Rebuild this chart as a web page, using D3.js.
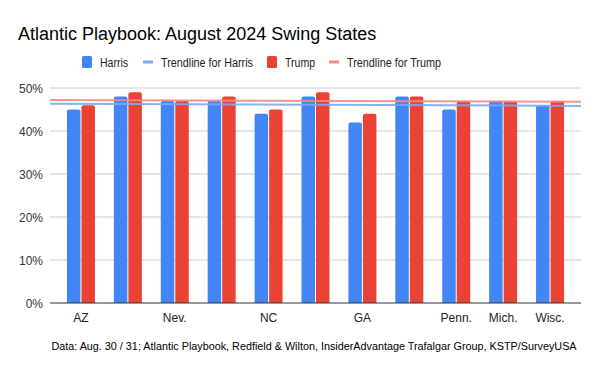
<!DOCTYPE html>
<html>
<head>
<meta charset="utf-8">
<script src="https://cdn.jsdelivr.net/npm/d3@7"></script>
<style>
  body { margin: 0; background: #fff; }
  svg { font-family: "Liberation Sans", Arial, sans-serif; }
</style>
</head>
<body>
<svg id="chart" width="600" height="371"></svg>
<script>
// data
const states = ["AZ", "", "Nev.", "", "NC", "", "GA", "", "Penn.", "Mich.", "Wisc."];
const harris = [45, 48, 47, 47, 44, 48, 42, 48, 45, 47, 46];
const trump  = [46, 49, 47, 48, 45, 49, 44, 48, 47, 47, 47];
const yTicks = [0, 10, 20, 30, 40, 50];

const series = [
    {name: "Harris", values: harris, color: "#4285f4", trend: "#7baaf7"},
    {name: "Trump",  values: trump,  color: "#ea4335", trend: "#f28b82"}
];

const svg = d3.select("#chart");
const plot = {left: 50, right: 581, top: 88, bottom: 303};

const x0 = d3.scaleBand()
    .domain(d3.range(states.length))
    .range([57.5, 573.5]);
const x1 = d3.scaleBand()
    .domain(series.map(s => s.name))
    .range([x0.bandwidth() / 2 - 14, x0.bandwidth() / 2 + 14])
    .paddingInner(0.07);
const y = d3.scaleLinear().domain([0, 50]).range([plot.bottom, plot.top]);

// title
svg.append("text")
    .attr("x", 18).attr("y", 40)
    .style("font-size", "18px")
    .style("fill", "#000")
    .text("Atlantic Playbook: August 2024 Swing States");

// legend (the reference font is a bit narrower, so squeeze to its widths)
const legend = [
    {label: "Harris", color: "#4285f4", type: "box", x: 82, w: 28},
    {label: "Trendline for Harris", color: "#7baaf7", type: "line", x: 143, w: 92},
    {label: "Trump", color: "#ea4335", type: "box", x: 267, w: 30},
    {label: "Trendline for Trump", color: "#f28b82", type: "line", x: 329, w: 94}
];
const lg = svg.append("g").attr("transform", "translate(0,62)");
legend.forEach(d => {
    if (d.type === "box") {
        lg.append("rect").attr("x", d.x).attr("y", -6).attr("width", 10).attr("height", 12)
            .attr("rx", 1.5).style("fill", d.color);
    } else {
        lg.append("rect").attr("x", d.x).attr("y", -1.5).attr("width", 10).attr("height", 3)
            .style("fill", d.color);
    }
    lg.append("text").attr("x", d.x + 18).attr("y", 4.5)
        .attr("textLength", d.w).attr("lengthAdjust", "spacingAndGlyphs")
        .style("font-size", "12.5px").style("fill", "#222").text(d.label);
});

// gridlines + y labels
const yAxis = svg.append("g");
yAxis.selectAll("line")
    .data(yTicks.filter(t => t > 0))
    .join("line")
    .attr("x1", plot.left).attr("x2", plot.right)
    .attr("y1", d => y(d)).attr("y2", d => y(d))
    .style("stroke", "#cccccc").style("stroke-width", 1);
yAxis.selectAll("text")
    .data(yTicks)
    .join("text")
    .attr("x", 43).attr("y", d => y(d) + 4.5)
    .attr("text-anchor", "end")
    .style("font-size", "12px").style("fill", "#333")
    .text(d => d + "%");

// bars with rounded tops
function barPath(x, w, yTop, yBot, r) {
    return `M${x},${yBot}V${yTop + r}Q${x},${yTop} ${x + r},${yTop}H${x + w - r}Q${x + w},${yTop} ${x + w},${yTop + r}V${yBot}Z`;
}
const groups = svg.append("g").selectAll("g")
    .data(states)
    .join("g")
    .attr("transform", (d, i) => `translate(${x0(i)},0)`);
groups.selectAll("path")
    .data((d, i) => series.map(s => ({name: s.name, color: s.color, v: s.values[i]})))
    .join("path")
    .attr("d", d => barPath(x1(d.name), x1.bandwidth(), y(d.v), plot.bottom, 2))
    .style("fill", d => d.color);

// trendlines (linear fit over category index)
series.forEach(s => {
    const n = s.values.length,
        xs = d3.range(n),
        mx = d3.mean(xs), my = d3.mean(s.values);
    const slope = d3.sum(xs, i => (i - mx) * (s.values[i] - my)) / d3.sum(xs, i => (i - mx) * (i - mx));
    const toIdx = px => (px - (x0(0) + x0.bandwidth() / 2)) / x0.step();
    const val = i => my + slope * (i - mx);
    svg.append("line")
        .attr("x1", plot.left).attr("x2", plot.right)
        .attr("y1", y(val(toIdx(plot.left)))).attr("y2", y(val(toIdx(plot.right))))
        .style("stroke", s.trend).style("stroke-width", 2).style("opacity", 0.9);
});

// zero baseline
svg.append("line")
    .attr("x1", plot.left).attr("x2", plot.right)
    .attr("y1", y(0)).attr("y2", y(0))
    .style("stroke", "#333").style("stroke-width", 1);

// x labels
svg.append("g").selectAll("text")
    .data(states)
    .join("text")
    .attr("x", (d, i) => x0(i) + x0.bandwidth() / 2)
    .attr("y", 322)
    .attr("text-anchor", "middle")
    .style("font-size", "12px").style("fill", "#222")
    .text(d => d);

// source note
svg.append("text")
    .attr("x", 314).attr("y", 350)
    .attr("text-anchor", "middle")
    .style("font-size", "10.8px").style("fill", "#000")
    .text("Data: Aug. 30 / 31; Atlantic Playbook, Redfield & Wilton, InsiderAdvantage Trafalgar Group, KSTP/SurveyUSA");
</script>
</body>
</html>
